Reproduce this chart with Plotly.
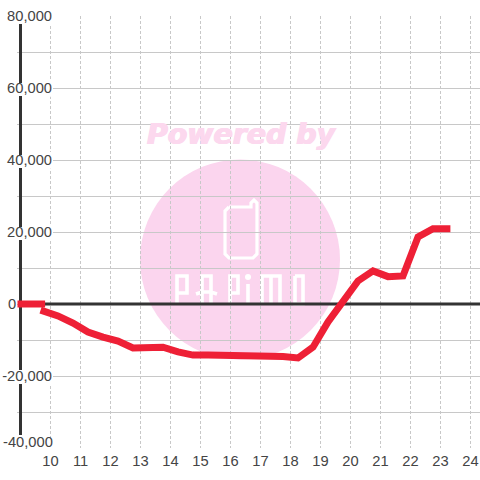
import plotly.graph_objects as go

hours = [9.67, 10.25, 10.75, 11.25, 11.75, 12.25, 12.75, 13.25, 13.75, 14.25, 14.75, 15.25, 15.75, 16.25,
         16.75, 17.25, 17.75, 18.25, 18.75, 19.25, 19.75, 20.25, 20.75, 21.25, 21.75, 22.25, 22.75, 23.33]
values = [-1700, -3300, -5300, -7800, -9200, -10300, -12200, -12300, -12000, -13300, -14200, -14200, -14200, -14200,
          -14200, -14200, -14600, -15000, -12000, -5000, 1000, 6400, 9200, 7600, 7800, 18600, 20900, 20900]
start_hours = [8.9, 9.82]
start_values = [0, 0]
x_ticks = list(range(10, 25))
y_ticks = [80000, 60000, 40000, 20000, 0, -20000, -40000]
y_minor = [70000, 50000, 30000, 10000, -10000, -30000]
y_labels = ["80,000", "60,000", "40,000", "20,000", "", "-20,000", ""]
axis_segments = [(77778, 61389), (57778, 41389), (37778, 21389), (17778, -18333), (-22222, -36389)]

RED = "#ee2036"
DARK = "#333333"
GRID = "#c8c8c8"
PINK = "#fbd5ee"
TEXT = "#444444"
WATERMARK_TEXT = "#fcd8ee"


def px(v):
    return (v - 50.5) / 30 + 10


def py(v):
    return (304 - v) / 3.6 * 1000


def path(*strokes):
    out = []
    for s in strokes:
        out.append(" ".join(("M" if i == 0 else "L") + f"{px(a):.3f},{py(b):.1f}" for i, (a, b) in enumerate(s)))
    return " ".join(out)


fig = go.Figure()

axis_y = []
for a, b in axis_segments:
    axis_y += [a, b, None]
fig.add_trace(go.Scatter(x=[9 if v is not None else None for v in axis_y], y=axis_y, mode="lines",
                         line=dict(color=DARK, width=3), hoverinfo="skip"))
fig.add_trace(go.Scatter(x=[9, 24.4], y=[0, 0], mode="lines", line=dict(color=DARK, width=3), hoverinfo="skip"))
fig.add_trace(go.Scatter(x=start_hours, y=start_values, mode="lines", line=dict(color=RED, width=7)))
fig.add_trace(go.Scatter(x=hours, y=values, mode="lines", line=dict(color=RED, width=7)))

shapes = [dict(type="circle", layer="below", xref="x", yref="y", x0=px(140), x1=px(340), y0=py(159.5), y1=py(359.5),
               fillcolor=PINK, line=dict(width=0))]

phone = [(229, 207), (251, 207), (251, 203), (254, 200), (257, 203), (257, 254), (253, 258), (229, 258),
         (225, 254), (225, 211), (229, 207)]
letters = [
    [(177, 305), (177, 276), (187, 276), (187, 293), (177, 293)],
    [(202, 305), (202, 276), (211, 276), (211, 305)],
    [(196, 294), (202, 292), (211, 292), (217, 294)],
    [(230, 305), (230, 276), (238, 276), (238, 293), (230, 293)],
    [(248, 284), (248, 305)],
    [(262, 305), (262, 276), (280, 276), (280, 305)],
    [(271, 276), (271, 305)],
    [(295, 276), (303, 276), (303, 304), (295, 304), (295, 276)],
]
shapes.append(dict(type="path", layer="below", xref="x", yref="y", path=path(phone),
                   line=dict(color="white", width=3.2), fillcolor="rgba(0,0,0,0)"))
shapes.append(dict(type="path", layer="below", xref="x", yref="y", path=path(*letters),
                   line=dict(color="white", width=3.6), fillcolor="rgba(0,0,0,0)"))
shapes.append(dict(type="circle", layer="below", xref="x", yref="y", x0=px(245), x1=px(251), y0=py(274), y1=py(280),
                   fillcolor="white", line=dict(width=0)))

for t in y_ticks:
    if t != 0:
        shapes.append(dict(type="rect", layer="between", xref="x", yref="y", x0=px(0), x1=px(53),
                           y0=t + 2200, y1=t - 2400, fillcolor="white", line=dict(width=0)))

fig.update_layout(
    width=480, height=480, margin=dict(l=17, r=0, t=16, b=32),
    paper_bgcolor="white", plot_bgcolor="white", showlegend=False, shapes=shapes,
    font=dict(family="Liberation Sans, Arial, sans-serif", size=14.7, color=TEXT),
    xaxis=dict(range=[px(17), px(480)], tickmode="array", tickvals=x_ticks, ticktext=[str(v) for v in x_ticks],
               showgrid=True, gridcolor=GRID, griddash="3px,2px", gridwidth=1, zeroline=False, showline=False,
               ticks="", ticklen=0, ticklabelstandoff=2),
    yaxis=dict(range=[-40000, 80000], anchor="free", position=35 / 463, tickmode="array",
               tickvals=y_ticks + y_minor, ticktext=y_labels + [""] * len(y_minor),
               showgrid=True, gridcolor=GRID, gridwidth=1, zeroline=False, showline=False, ticks=""),
    annotations=[
        dict(text="<b><i>Powered by</i></b>", xref="x", yref="y", x=px(242), y=py(134), showarrow=False,
             font=dict(family="DejaVu Sans", size=28.4, color=WATERMARK_TEXT,
                       shadow=f"0.7px 0 0 {WATERMARK_TEXT}, -0.7px 0 0 {WATERMARK_TEXT}"),
             xanchor="center", yanchor="middle"),
        dict(text="0", xref="x", yref="y", x=px(17.5), y=0, showarrow=False, xanchor="right", yanchor="middle",
             font=dict(size=14.7, color=TEXT)),
        dict(text="-40,000", xref="x", yref="y", x=px(55), y=py(441.5), showarrow=False, xanchor="right",
             yanchor="middle", font=dict(size=14.7, color=TEXT)),
    ],
)

fig.write_html("out.html", config=dict(displayModeBar=False),
               post_script="document.body.style.margin='0';document.documentElement.style.overflow='hidden';")
